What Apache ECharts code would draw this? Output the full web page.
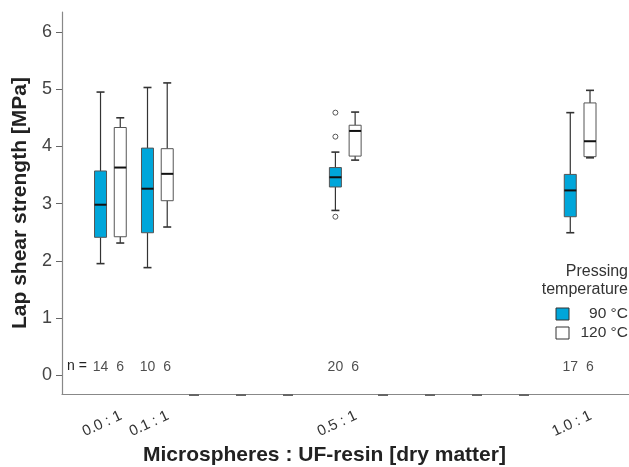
<!DOCTYPE html>
<html>
<head>
<meta charset="utf-8">
<script src="https://cdn.jsdelivr.net/npm/echarts@6/dist/echarts.min.js"></script>
<style>
  html, body { margin: 0; padding: 0; background: #fff; }
  #chart { width: 629px; height: 467px; }
</style>
</head>
<body>
<div id="chart"></div>
<script>
// ratio microspheres : UF-resin
const groups = [0.0, 0.1, 0.5, 1.0];
const groupLabels = ['0.0 : 1', '0.1 : 1', '0.5 : 1', '1.0 : 1'];
// [low, q1, median, q3, high]
const box90 = [
  [1.95, 2.41, 2.98, 3.57, 4.95],
  [1.88, 2.49, 3.26, 3.97, 5.03],
  [2.88, 3.29, 3.46, 3.63, 3.90],
  [2.49, 2.77, 3.23, 3.51, 4.59]
];
const box120 = [
  [2.31, 2.42, 3.63, 4.33, 4.50],
  [2.59, 3.05, 3.52, 3.96, 5.11],
  [3.76, 3.83, 4.27, 4.37, 4.60],
  [3.80, 3.82, 4.09, 4.76, 4.98]
];
// outliers of 90 °C group at ratio 0.5
const outlierGroup = [0.5, 0.5, 0.5];
const outlierValues = [4.59, 4.17, 2.77];
const n90 = [14, 10, 20, 17];
const n120 = [6, 6, 6, 6];
const yTicks = [0, 1, 2, 3, 4, 5, 6];

const dodge = 0.021;
const blue = '#00a6da';
const font = 'Liberation Sans, Arial, sans-serif';

function boxData(boxes, off) {
  return boxes.map((b, i) => [groups[i] + off].concat(b));
}

function renderBox(fill) {
  return function (params, api) {
    const x = api.value(0);
    const p = [1, 2, 3, 4, 5].map(i => api.coord([x, api.value(i)]));
    const cx = p[0][0];
    const hw = 6, cw = 4;
    const line = (x1, y1, x2, y2, w, c) => ({
      type: 'line', shape: { x1, y1, x2, y2 },
      style: { stroke: c, lineWidth: w }
    });
    return {
      type: 'group',
      children: [
        line(cx, p[0][1], cx, p[1][1], 1.2, '#333'),
        line(cx, p[3][1], cx, p[4][1], 1.2, '#333'),
        line(cx - cw, p[0][1], cx + cw, p[0][1], 1.6, '#333'),
        line(cx - cw, p[4][1], cx + cw, p[4][1], 1.6, '#333'),
        {
          type: 'rect',
          shape: { x: cx - hw, y: p[3][1], width: hw * 2, height: p[1][1] - p[3][1] },
          style: { fill: fill, stroke: '#555', lineWidth: 1 }
        },
        line(cx - hw, p[2][1], cx + hw, p[2][1], 2, '#111')
      ]
    };
  };
}

function countData(counts, off) {
  return counts.map((c, i) => [groups[i] + off, 0.14, c]);
}

const countLabel = {
  show: true, position: 'inside',
  formatter: p => String(p.value[2]),
  color: '#222', fontSize: 14, fontFamily: font
};

const chart = echarts.init(document.getElementById('chart'));
chart.setOption({
  animation: false,
  grid: { left: 62, right: 0, top: 12, bottom: 73, outerBoundsMode: 'none', containLabel: false },
  xAxis: {
    type: 'value', min: -0.103, max: 1.104,
    splitLine: { show: false },
    axisLine: { show: true, onZero: false, lineStyle: { color: '#888', width: 1.2 } },
    axisTick: {
      show: true, inside: false, length: 2,
      customValues: [0.177, 0.277, 0.377, 0.579, 0.679, 0.779, 0.879],
      lineStyle: { color: '#666', width: 10 }
    },
    axisLabel: {
      customValues: groups,
      formatter: v => groupLabels[groups.indexOf(v)] || '',
      rotate: 25, align: 'center', verticalAlign: 'middle',
      margin: 26, padding: [0, 18, 0, 0],
      fontSize: 15, color: '#333', fontFamily: font
    }
  },
  yAxis: {
    type: 'value', min: -0.33, max: 6.35,
    splitLine: { show: false },
    axisLine: { show: true, onZero: false, lineStyle: { color: '#888', width: 1.2 } },
    axisTick: { show: true, customValues: yTicks, length: 6, lineStyle: { color: '#666' } },
    axisLabel: { customValues: yTicks, margin: 10, fontSize: 18, color: '#444', fontFamily: font },
    name: 'Lap shear strength [MPa]',
    nameLocation: 'middle', nameGap: 28,
    nameTextStyle: { fontSize: 21, fontWeight: 'bold', color: '#222', fontFamily: font }
  },
  legend: {
    orient: 'vertical', right: -4, top: 301, itemGap: 3,
    itemWidth: 13, itemHeight: 12, icon: 'rect',
    data: [
      { name: '90 °C', itemStyle: { color: blue, borderColor: '#333', borderWidth: 1 } },
      { name: '120 °C', itemStyle: { color: '#fff', borderColor: '#333', borderWidth: 1 } }
    ],
    formatter: name => '{t|' + name + '}',
    textStyle: {
      rich: { t: { width: 54, lineHeight: 12, align: 'right', fontSize: 15.5, color: '#333', fontFamily: font } }
    }
  },
  graphic: [
    {
      type: 'text', right: 1, top: 264,
      style: { text: 'Pressing', fontSize: 16, fill: '#333', fontFamily: font, textAlign: 'right' }
    },
    {
      type: 'text', right: 1, top: 282,
      style: { text: 'temperature', fontSize: 16, fill: '#333', fontFamily: font, textAlign: 'right' }
    },
    {
      type: 'text', left: 67, top: 359,
      style: { text: 'n =', fontSize: 14, fill: '#222', fontFamily: font }
    },
    {
      type: 'text', left: 143, top: 445,
      style: { text: 'Microspheres : UF-resin [dry matter]', fontSize: 21, fontWeight: 'bold', fill: '#222', fontFamily: font }
    }
  ],
  series: [
    {
      name: '90 °C', type: 'custom',
      renderItem: renderBox(blue),
      encode: { x: 0, y: [1, 2, 3, 4, 5] },
      itemStyle: { color: blue },
      data: boxData(box90, -dodge)
    },
    {
      name: '120 °C', type: 'custom',
      renderItem: renderBox('#fff'),
      encode: { x: 0, y: [1, 2, 3, 4, 5] },
      itemStyle: { color: '#fff' },
      data: boxData(box120, dodge)
    },
    {
      type: 'scatter', symbol: 'circle', symbolSize: 5, z: 5,
      itemStyle: { color: '#fff', borderColor: '#555', borderWidth: 1, opacity: 1 },
      data: outlierGroup.map((g, i) => [g - dodge, outlierValues[i]])
    },
    {
      type: 'scatter', symbolSize: 0, label: countLabel,
      data: countData(n90, -dodge)
    },
    {
      type: 'scatter', symbolSize: 0, label: countLabel,
      data: countData(n120, dodge)
    }
  ]
});
</script>
</body>
</html>
